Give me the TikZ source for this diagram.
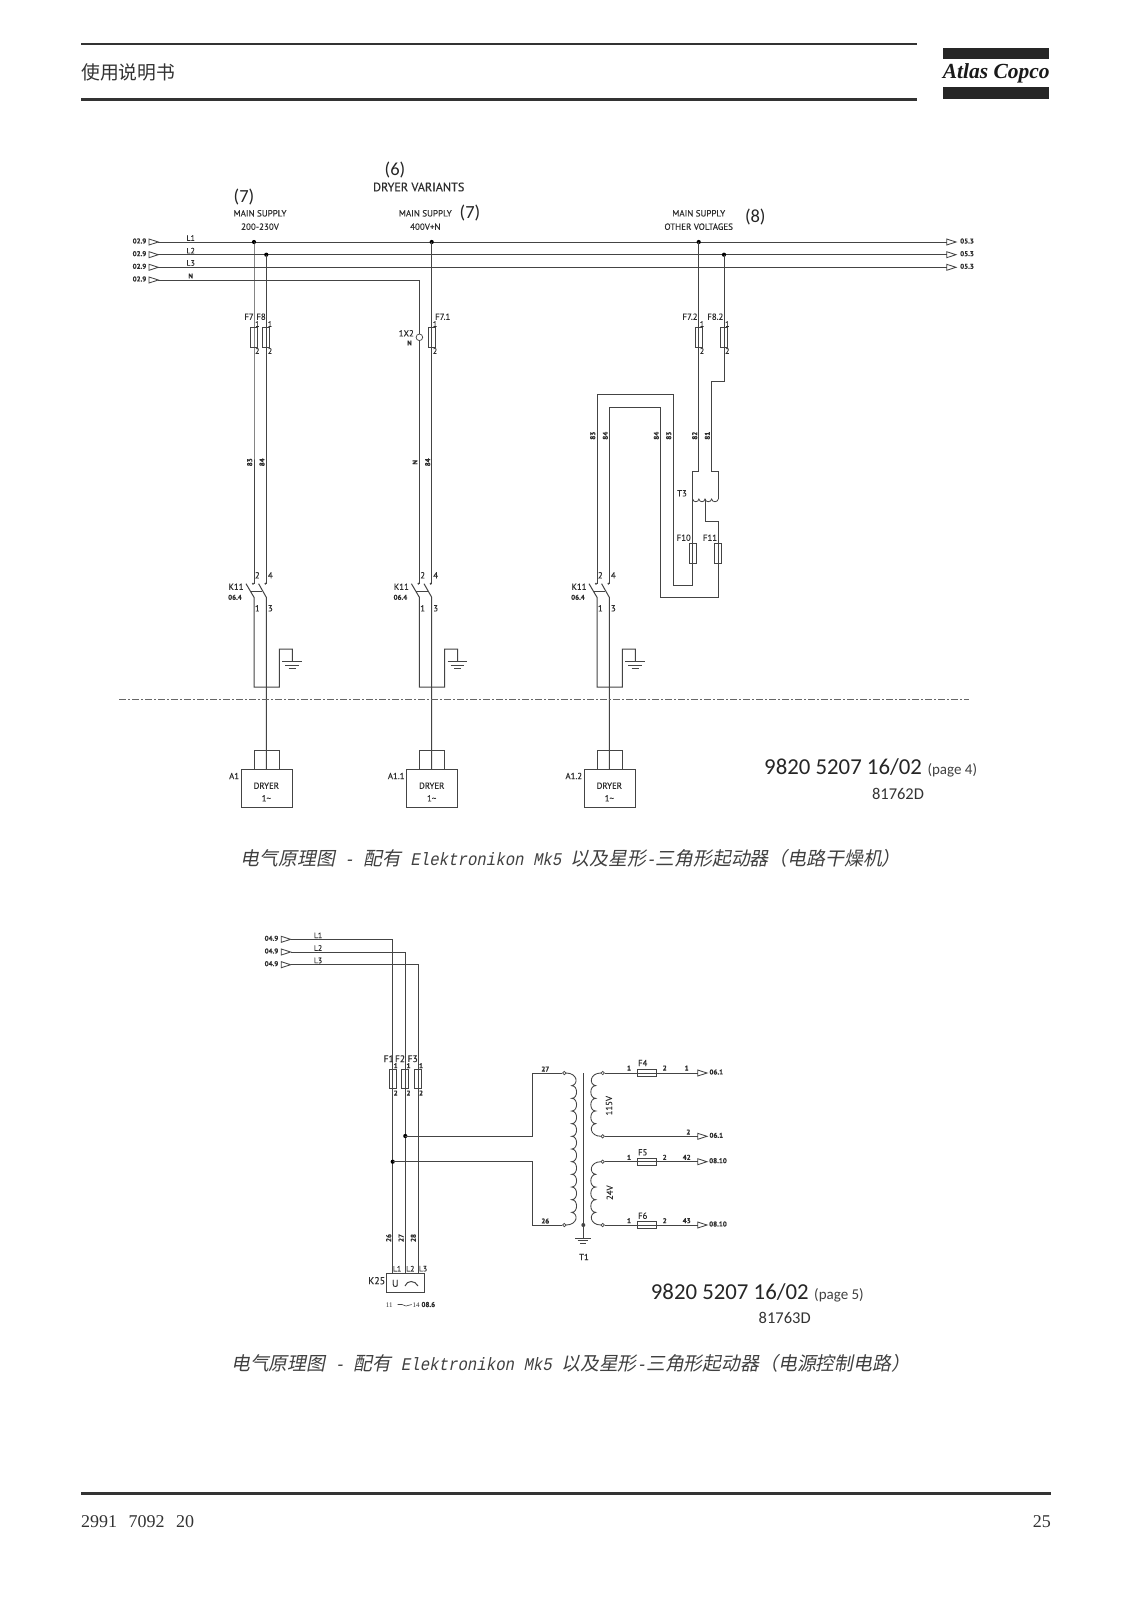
\documentclass[tikz,border=0pt]{standalone}
\usepackage{fontspec}
\setmainfont{Liberation Serif}
\newfontfamily\din[FakeBold=0.25]{PT Sans}
\newfontfamily\myr{Carlito}
\newfontfamily\cjk{Noto Sans CJK SC}
\newfontfamily\cjki[FakeSlant=0.2]{Noto Sans CJK SC}
\newfontfamily\monoi[FakeSlant=0.2,FakeStretch=0.88]{Liberation Mono}
\newcommand{\capl}{\monoi\fontsize{17.86}{20}\selectfont}
\definecolor{wirec}{HTML}{444444}
\definecolor{txtc}{HTML}{2E2E2E}
\tikzset{
 wire/.style={draw=wirec,line width=1pt,line join=miter},
 fusebox/.style={draw=wirec,line width=0.85pt,inner sep=0pt,outer sep=0pt,rectangle},
 fusev/.style={fusebox,minimum width=7.2pt,minimum height=19.6pt},
 fuseh/.style={fusebox,minimum width=19.4pt,minimum height=6.8pt},
 dotn/.style={circle,fill=black,inner sep=0pt,minimum size=4.2pt},
 term/.style={circle,draw=wirec,fill=white,line width=0.7pt,inner sep=0pt,minimum size=3.4pt},
 lab/.style={text=txtc,inner sep=0pt,font=\din\fontsize{8.8}{9}\selectfont},
 labs/.style={text=txtc,inner sep=0pt,font=\din\fontsize{7.8}{8}\selectfont},
 labb/.style={text=txtc,inner sep=0pt,font=\din\bfseries\fontsize{7}{8}\selectfont},
 labm/.style={text=txtc,inner sep=0pt,font=\din\fontsize{9}{10}\selectfont},
 paren/.style={text=black!85,inner sep=0pt,font=\myr\fontsize{18.5}{20}\selectfont},
 cod/.style={text=black!85,inner sep=0pt,font=\myr\fontsize{22.8}{24}\selectfont},
 pg/.style={text=black!75,inner sep=0pt,font=\myr\fontsize{15}{16}\selectfont},
 refn/.style={text=black!80,inner sep=0pt,font=\myr\fontsize{16.5}{17}\selectfont},
 capt/.style={text=black!75,inner sep=0pt,anchor=west,font=\cjki\fontsize{18.86}{20}\selectfont},
 rulebar/.style={draw=black!80,line width=2.2pt},
}
% open triangle: base at x, tip 9.3 to the right; (#1) base, (#1-t) tip
\newcommand{\tri}[3]{%
 \coordinate (#1) at (#2,#3);
 \coordinate (#1-t) at (#2+9.3,#3);
 \draw[wire,line width=0.85pt] (#2,#3-3) -- (#1-t) -- (#2,#3+3) -- cycle;}
% lower part of one dryer branch
\newcommand{\branch}[3]{%
\begin{scope}[xshift=#2pt,name prefix=#1-]
 \coordinate (a) at (254,583.7);
 \coordinate (b) at (266.3,583.7);
 \coordinate (a0) at (246,583.7);
 \coordinate (b0) at (258.6,583.7);
 \coordinate (a1) at (254,597.3);
 \coordinate (b1) at (266.3,597.3);
 \coordinate (l1) at (250.7,591.7);
 \coordinate (l2) at (262.3,591.7);
 \coordinate (p1) at (254,687);
 \coordinate (p2) at (279.3,687);
 \coordinate (p3) at (279.3,649);
 \coordinate (p4) at (292.3,649);
 \coordinate (e) at (292.3,661.7);
 \node[inner sep=0pt,draw=wirec,line width=1pt,rectangle,minimum width=51.3pt,minimum height=38.4pt] (box) at (266.65,788.5) {};
 \coordinate (u1) at (254,769.3);
 \coordinate (u2) at (254,750.7);
 \coordinate (u3) at (279.3,750.7);
 \coordinate (u4) at (279.3,769.3);
 \coordinate (m) at (266.3,769.3);
 \draw[wire] (a0) -- (a1) -- (p1) -- (p2) -- (p3) -- (p4) -- (e);
 \draw[wire] (b0) -- (b1) -- (m);
 \draw[wire,line width=0.7pt] (l1) -- (l2);
 \draw[wire] (u1) -- (u2) -- (u3) -- (u4);
 \draw[wire] (282.3,661.7) -- (301.7,661.7);
 \draw[wire] (285.3,665) -- (298.7,665);
 \draw[wire] (288.7,668.3) -- (295.7,668.3);
 \fill[wirec] (253,583.7) circle (1.1pt) (265.4,583.7) circle (1.1pt);
 \node[lab] (k) at (236,586.7) {K11};
 \node[labb] (kr) at (235,597.3) {06.4};
 \node[lab] (n2) at (257.3,575.3) {2};
 \node[lab] (n4) at (270.3,575.3) {4};
 \node[lab] (n1) at (257.3,608.3) {1};
 \node[lab] (n3) at (270.3,608.3) {3};
 \node[lab] (dr) at (266.3,785.7) {DRYER};
 \node[lab] (ph) at (266.3,798.3) {1\textasciitilde};
 \node[lab,anchor=east] (nm) at (239.3,776) {#3};
\end{scope}}
% coil: terminal x, cusp x, side (+1/-1), bump count, y0, y1
\newcommand{\coil}[6]{%
 \pgfmathsetmacro{\hh}{(#6-#5)/#4}%
 \pgfmathtruncatemacro{\nm}{#4-2}%
 \draw[wire,line width=0.85pt] (#1,#5) .. controls (#2+6*#3,#5) and (#2+7*#3,#5+\hh*0.9) .. (#2,#5+\hh)
 \foreach \i in {1,...,\nm} { .. controls (#2+6.5*#3,#5+\hh*\i) and (#2+6.5*#3,#5+\hh*\i+\hh) .. (#2,#5+\hh*\i+\hh) }
 .. controls (#2+7*#3,#6-\hh*0.9) and (#2+6*#3,#6) .. (#1,#6);}
\begin{document}
\begin{tikzpicture}[x=1pt,y=-1pt]
\useasboundingbox[fill=white] (0,0) rectangle (1131,1600);
% page frame
\draw[rulebar] (81,44) -- (916.5,44);
\draw[rulebar] (81,99.5) -- (916.5,99.5);
\draw[rulebar] (81,1493.5) -- (1051,1493.5);
\node[text=black!80,inner sep=0pt,anchor=west,font=\cjk\fontsize{18.8}{20}\selectfont] (hd) at (81,72) {使用说明书};
\fill[black!85] (943,48.3) rectangle (1049.3,59.5);
\fill[black!85] (943,87.3) rectangle (1049.3,99);
\node[text=black!90,inner sep=0pt,font=\bfseries\itshape\fontsize{21.5}{24}\selectfont] (logo) at (996.2,73) {Atlas Copco};
\node[text=black!80,inner sep=0pt,anchor=west,font=\fontsize{18}{20}\selectfont] (ft) at (81,1521.7) {2991 \hspace{7pt}7092 \hspace{7pt}20};
\node[text=black!80,inner sep=0pt,anchor=east,font=\fontsize{18}{20}\selectfont] (pn) at (1051,1521.7) {25};
\node[capt] (cap1) at (240.5,858) {电气原理图{\capl{} - }配有{\capl{} Elektronikon Mk5 }以及星形{\capl -}三角形起动器（电路干燥机）};
\node[capt] (cap2) at (231,1363) {电气原理图{\capl{} - }配有{\capl{} Elektronikon Mk5 }以及星形{\capl -}三角形起动器（电源控制电路）};

% ========== upper diagram ==========
\foreach \n/\y in {a/242,b/254.7,c/267.3,d/280}{
 \tri{in\n}{149}{\y}
 \node[labb,anchor=east] (inl\n) at (146.5,\y-1) {02.9};
}
\foreach \n/\y in {a/242,b/254.7,c/267.3}{
 \tri{out\n}{946.7}{\y}
 \node[labb,anchor=west] (outl\n) at (960,\y-1) {05.3};
}
\draw[wire] (ina-t) -- (outa);
\draw[wire] (inb-t) -- (outb);
\draw[wire] (inc-t) -- (outc);
\node[labs] (lL1) at (190.7,238) {L1};
\node[labs] (lL2) at (190.7,250.7) {L2};
\node[labs] (lL3) at (190.7,263) {L3};
\node[labb] (lN) at (190.7,276) {N};
\node[dotn] (J1) at (254,242) {};
\node[dotn] (J2) at (266.3,254.7) {};
\node[dotn] (J3) at (431.7,242) {};
\node[dotn] (J4) at (698.7,242) {};
\node[dotn] (J5) at (724,254.7) {};
\node[fusev] (F7) at (254,337.5) {};
\node[fusev] (F8) at (266.3,337.5) {};
\node[fusev] (F71) at (431.7,337.5) {};
\node[fusev] (F72) at (698.7,337.5) {};
\node[fusev] (F82) at (724,337.5) {};
\node[fusev] (F10) at (692.7,553.3) {};
\node[fusev] (F11) at (718,553.3) {};
\branch{c1}{0}{A1}
\branch{c2}{165.4}{A1.1}
\branch{c3}{343}{A1.2}
\coordinate (nc) at (419.4,280);
\node[term,minimum size=6.6pt] (X2) at (419.4,337.3) {};
\draw[wire] (J1.center) -- (F7.center) -- (c1-a);
\draw[wire] (J2.center) -- (F8.center) -- (c1-b);
\draw[wire] (J3.center) -- (F71.center) -- (c2-b);
\draw[wire] (ind-t) -- (nc) -- (X2) (X2) -- (c2-a);
% third branch
\coordinate (t1) at (698.7,471);
\coordinate (t2) at (692.7,471);
\coordinate (t3) at (692.7,499);
\coordinate (r1) at (724,381);
\coordinate (r2) at (711.3,381);
\coordinate (r3) at (711.3,471);
\coordinate (r4) at (718.3,471);
\coordinate (r5) at (718.3,499);
\coordinate (tap) at (705,499);
\coordinate (tq) at (698.9,499);
\coordinate (tr) at (711.6,499);
\coordinate (tap1) at (705,521.7);
\coordinate (tap2) at (718,521.7);
\coordinate (b1) at (718,597.7);
\coordinate (b2) at (660.7,597.7);
\coordinate (b3) at (660.7,407.3);
\coordinate (b4) at (609.3,407.3);
\coordinate (c1x) at (692.7,585.3);
\coordinate (c2x) at (673.3,585.3);
\coordinate (c3x) at (673.3,394.3);
\coordinate (c4x) at (597,394.3);
\draw[wire] (J4.center) -- (F72.center) -- (t1) -- (t2) -- (t3);
\draw[wire] (J5.center) -- (F82.center) -- (r1) -- (r2) -- (r3) -- (r4) -- (r5);
\draw[wire,line width=0.8pt] (t3) .. controls +(0.5,3.6) and +(-0.5,3.6) .. (tq) .. controls +(0.5,3.6) and +(-0.5,3.6) .. (tap) .. controls +(0.5,3.6) and +(-0.5,3.6) .. (tr) .. controls +(0.5,3.6) and +(-0.5,3.6) .. (r5);
\draw[wire] (tap) -- (tap1) -- (tap2) -- (F11.center) -- (b1) -- (b2) -- (b3) -- (b4) -- (c3-b);
\draw[wire] (t3) -- (F10.center) -- (c1x) -- (c2x) -- (c3x) -- (c4x) -- (c3-a);
% dash-dot separator
\coordinate (s1) at (119,699.7);
\coordinate (s2) at (969.3,699.7);
\draw[draw=black!60,line width=1.4pt,dash pattern=on 7pt off 2.25pt on 1.5pt off 2.25pt] (s1) -- (s2);
% upper headers
\node[paren] (h6) at (395,170) {(6)};
\node[lab,font=\din\fontsize{12.2}{13}\selectfont] (hv) at (418.7,187) {DRYER VARIANTS};
\node[paren] (h7a) at (244,197.3) {(7)};
\node[labm] (m1) at (260,213.3) {MAIN SUPPLY};
\node[labm] (m1b) at (260,226.7) {200-230V};
\node[labm] (m2) at (425.3,213.3) {MAIN SUPPLY};
\node[labm] (m2b) at (425.3,226.7) {400V+N};
\node[paren] (h7b) at (470,213.3) {(7)};
\node[labm] (m3) at (698.7,213.3) {MAIN SUPPLY};
\node[labm] (m3b) at (698.7,226.7) {OTHER VOLTAGES};
\node[paren] (h8) at (755.3,216.7) {(8)};
% fuse labels
\node[lab] (lF7) at (249,316.7) {F7};
\node[lab] (lF8) at (261,316.7) {F8};
\node[lab,anchor=west] (lF71) at (435,316.7) {F7.1};
\node[lab] (lF72) at (690,316.7) {F7.2};
\node[lab] (lF82) at (715.3,316.7) {F8.2};
\node[lab] (lF10) at (683.7,537.7) {F10};
\node[lab] (lF11) at (710,537.7) {F11};
\foreach \x/\k in {257.3/a,270/b,435/c,702/d,727.3/e}{
 \node[labs] (p1\k) at (\x,324) {1};
 \node[labs] (p2\k) at (\x,351) {2};
}
\node[lab,anchor=east] (lX2) at (414,333.3) {1X2};
\node[labb,anchor=east] (lXN) at (412,343) {N};
\node[lab] (lT3) at (682,493.3) {T3};
% rotated wire numbers
\foreach \x/\y/\t in {249.7/462.3/83,262/462.3/84,415/462.3/N,427.7/462.3/84,592.7/435.7/83,605.3/435.7/84,656.3/435.7/84,668.7/435.7/83,694.7/435.7/82,707.3/435.7/81}{
 \node[labb,rotate=90] at (\x,\y) {\t};
}
\node[cod,anchor=west] (c1) at (764,767.3) {9820 5207 16/02};
\node[pg,anchor=west] (g1) at (927.3,770) {(page 4)};
\node[refn] (r1n) at (898,794) {81762D};

% ========== lower diagram ==========
\foreach \n/\y in {a/939.3,b/952,c/964.7}{
 \tri{li\n}{281.3}{\y}
 \node[labb,anchor=east] (lil\n) at (278.5,\y-1) {04.9};
}
\node[labs] (l1a) at (318,935.3) {L1};
\node[labs] (l1b) at (318,948) {L2};
\node[labs] (l1c) at (318,960.5) {L3};
\coordinate (v1) at (392.7,939.3);
\coordinate (v2) at (405.3,952);
\coordinate (v3) at (418.3,964.7);
\node[fusev] (F1) at (392.7,1079) {};
\node[fusev] (F2) at (405.3,1079) {};
\node[fusev] (F3) at (418.3,1079) {};
\node[draw=wirec,line width=1pt,inner sep=0pt,rectangle,minimum width=38.3pt,minimum height=19.3pt] (K25) at (405.15,1282.65) {};
\coordinate (k1) at (392.7,1273);
\coordinate (k2) at (405.3,1273);
\coordinate (k3) at (418.3,1273);
\draw[wire] (lia-t) -- (v1) -- (F1.center) -- (k1);
\draw[wire] (lib-t) -- (v2) -- (F2.center) -- (k2);
\draw[wire] (lic-t) -- (v3) -- (F3.center) -- (k3);
\node[dotn] (D2) at (405.3,1136) {};
\node[dotn] (D1) at (392.7,1161.7) {};
\node[term] (P1) at (564.3,1073) {};
\node[term] (P2) at (564.3,1225) {};
\coordinate (w1) at (532.7,1136);
\coordinate (w2) at (532.7,1073);
\coordinate (w3) at (532.7,1161.7);
\coordinate (w4) at (532.7,1225);
\draw[wire] (D2.center) -- (w1) -- (w2) -- (P1);
\draw[wire] (D1.center) -- (w3) -- (w4) -- (P2);
% transformer
\coil{566}{571.7}{1}{12}{1073}{1225}
\coil{601}{595.7}{-1}{5}{1073}{1136.3}
\coil{601}{595.7}{-1}{5}{1161.7}{1225}
\coordinate (core1) at (583.3,1073);
\coordinate (core2) at (583.3,1238.3);
\draw[wire] (core1) -- (core2);
\fill[wirec] (583.3,1225) circle (2pt);
\draw[wire] (575,1238.3) -- (591,1238.3);
\draw[wire] (577.7,1240.8) -- (588.3,1240.8);
\draw[wire] (580.3,1243.2) -- (585.7,1243.2);
\node[term] (S1) at (602.7,1073) {};
\node[term] (S2) at (602.7,1136.3) {};
\node[term] (S3) at (602.7,1161.7) {};
\node[term] (S4) at (602.7,1225) {};
\foreach \n/\y in {a/1073,b/1136.3,c/1161.7,d/1225}{\tri{o\n}{697.7}{\y}}
\node[fuseh] (F4) at (647,1073) {};
\node[fuseh] (F5) at (647,1161.7) {};
\node[fuseh] (F6) at (647,1225) {};
\draw[wire] (S1) -- (F4.center) -- (oa);
\draw[wire] (S2) -- (ob);
\draw[wire] (S3) -- (F5.center) -- (oc);
\draw[wire] (S4) -- (F6.center) -- (od);
\node[labb] at (716.3,1072) {06.1};
\node[labb] at (716.3,1135.3) {06.1};
\node[labb] at (718,1160.7) {08.10};
\node[labb] at (718,1224) {08.10};
\foreach \y/\f/\l in {1068/F4/1,1157.3/F5/42,1220.7/F6/43}{
 \node[labb] at (629,\y) {1};
 \node[lab] at (642.7,\y-5) {\f};
 \node[labb] at (664.7,\y) {2};
 \node[labb] at (686.7,\y) {\l};
}
\node[labb] at (688.3,1132) {2};
\node[labb] at (545.3,1069) {27};
\node[labb] at (545.3,1221) {26};
\node[lab,rotate=90] at (609,1105.7) {115V};
\node[lab,rotate=90] at (609.7,1192.7) {24V};
\node[lab] (T1) at (584,1257) {T1};
% fuse labels lower
\node[lab,font=\din\fontsize{9.5}{10}\selectfont] at (388.7,1058.7) {F1};
\node[lab,font=\din\fontsize{9.5}{10}\selectfont] at (400,1058.7) {F2};
\node[lab,font=\din\fontsize{9.5}{10}\selectfont] at (412.7,1058.7) {F3};
\foreach \x/\k in {395.7/a,408.5/b,421/c}{
 \node[labb] at (\x,1065.7) {1};
 \node[labb] at (\x,1093) {2};
}
\node[labb,rotate=90] at (388.7,1238) {26};
\node[labb,rotate=90] at (401,1238) {27};
\node[labb,rotate=90] at (413.3,1238) {28};
\node[labs] at (397,1268.7) {L1};
\node[labs] at (410.3,1268.7) {L2};
\node[labs] at (423,1268.7) {L3};
\node[lab,font=\din\fontsize{10}{11}\selectfont] at (376.7,1280.7) {K25};
\node[lab,font=\din\fontsize{10}{11}\selectfont] at (395.3,1283.3) {U};
\draw[wire] (405,1286) .. controls (407,1280) and (415,1280) .. (418,1286);
\node[text=txtc,inner sep=0pt,font=\fontsize{7}{8}\selectfont] at (389.3,1305) {11};
\draw[wire,line width=0.6pt] (397.7,1304.5) -- (402,1304.5) -- (406,1306) -- (411.7,1304.5);
\node[text=txtc,inner sep=0pt,font=\fontsize{7}{8}\selectfont] at (416,1305) {14};
\node[labb] at (428.3,1304.5) {08.6};
\node[cod,anchor=west] (c2) at (650.7,1291.7) {9820 5207 16/02};
\node[pg,anchor=west] (g2) at (814,1295) {(page 5)};
\node[refn] (r2n) at (784.7,1318.3) {81763D};
\end{tikzpicture}
\end{document}
